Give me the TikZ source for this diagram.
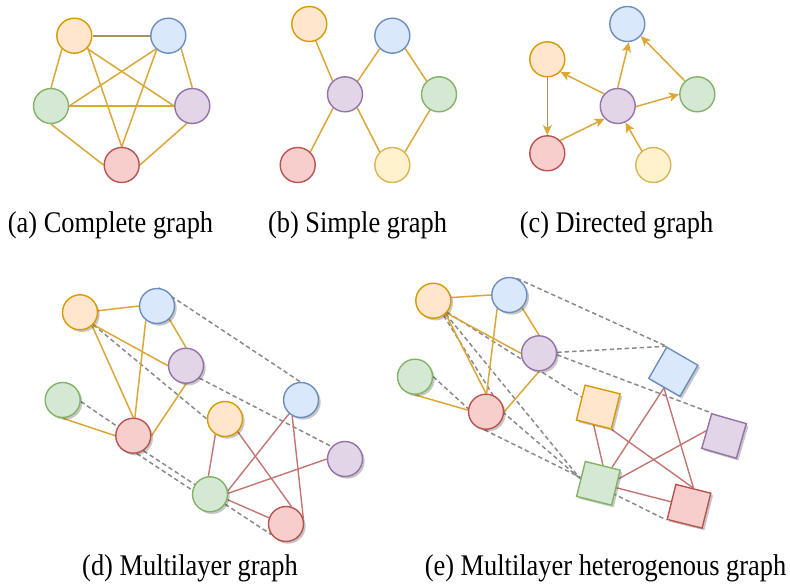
\documentclass[tikz,border=0pt]{standalone}
\usepackage{graphicx}
\usepackage{fontspec}
\setmainfont{Liberation Serif}
\usetikzlibrary{arrows.meta,shadows,calc}
\pgfdeclarelayer{edges}
\pgfsetlayers{edges,main}

\definecolor{ofill}{HTML}{FFE6CC}\definecolor{odraw}{HTML}{D79B00}
\definecolor{bfill}{HTML}{DAE8FC}\definecolor{bdraw}{HTML}{6C8EBF}
\definecolor{gfill}{HTML}{D5E8D4}\definecolor{gdraw}{HTML}{82B366}
\definecolor{pfill}{HTML}{E1D5E7}\definecolor{pdraw}{HTML}{9673A6}
\definecolor{rfill}{HTML}{F8CECC}\definecolor{rdraw}{HTML}{B85450}
\definecolor{yfill}{HTML}{FFF2CC}\definecolor{ydraw}{HTML}{D6B656}
\definecolor{edgeY}{HTML}{DCA737}
\definecolor{edgeD}{HTML}{A8955E}
\definecolor{edgeR}{HTML}{C27572}
\definecolor{dashG}{HTML}{8A8A8A}

\tikzset{
  vtx/.style={circle,minimum size=35pt,inner sep=0pt,line width=1.4pt},
  sqv/.style={rectangle,minimum size=36pt,inner sep=0pt,line width=1.4pt},
  vo/.style={fill=ofill,draw=odraw},
  vb/.style={fill=bfill,draw=bdraw},
  vg/.style={fill=gfill,draw=gdraw},
  vp/.style={fill=pfill,draw=pdraw},
  vr/.style={fill=rfill,draw=rdraw},
  vy/.style={fill=yfill,draw=ydraw},
  shd/.style={drop shadow={shadow xshift=2.2pt,shadow yshift=-2.2pt,opacity=0.22,fill=black}},
  ye/.style={draw=edgeY,line width=1.5pt},
  re/.style={draw=edgeR,line width=1.4pt},
  de/.style={draw=dashG,line width=1.5pt,dash pattern=on 4.5pt off 3pt},
  arr/.style={ye,-{Stealth[length=10pt,width=9pt,inset=2.5pt,color=edgeY]}},
  captxt/.style={anchor=base,inner sep=0pt,font=\fontsize{30}{36}\selectfont},
}

\begin{document}
\begin{tikzpicture}[x=1pt,y=-1pt]
\useasboundingbox (0,0) rectangle (790,588);

% ---------- (a) complete graph ----------
\node[vtx,vo] (aO) at (74.3,35.7) {};
\node[vtx,vb] (aB) at (168.3,35.7) {};
\node[vtx,vg] (aG) at (51,106) {};
\node[vtx,vp] (aP) at (192.3,106) {};
\node[vtx,vr] (aR) at (121.7,165) {};

% ---------- (b) simple graph ----------
\node[vtx,vo] (bO) at (309.3,24) {};
\node[vtx,vb] (bB) at (392.3,35.7) {};
\node[vtx,vp] (bP) at (345,94.3) {};
\node[vtx,vg] (bG) at (439,94.3) {};
\node[vtx,vr] (bR) at (297.7,165) {};
\node[vtx,vy] (bY) at (392.3,165) {};

% ---------- (c) directed graph ----------
\node[vtx,vb] (cB) at (627.3,24) {};
\node[vtx,vo] (cO) at (547.3,59.3) {};
\node[vtx,vp] (cP) at (617.7,106) {};
\node[vtx,vg] (cG) at (697.3,94.3) {};
\node[vtx,vr] (cR) at (547.3,153.3) {};
\node[vtx,vy] (cY) at (653.3,165) {};

% ---------- (d) multilayer graph ----------
\node[vtx,vo,shd] (dO) at (80,312.3) {};
\node[vtx,vb,shd] (dB) at (157,306) {};
\node[vtx,vp,shd] (dP) at (186,365.7) {};
\node[vtx,vg,shd] (dG) at (62.7,400) {};
\node[vtx,vr,shd] (dR) at (133.3,435.7) {};
\node[vtx,vo,shd] (dO2) at (225,419) {};
\node[vtx,vb,shd] (dB2) at (301,400) {};
\node[vtx,vp,shd] (dP2) at (345,459) {};
\node[vtx,vg,shd] (dG2) at (210,494.3) {};
\node[vtx,vr,shd] (dR2) at (286,524) {};

% ---------- (e) multilayer heterogenous graph ----------
\node[vtx,vo,shd] (eO) at (433.3,300.7) {};
\node[vtx,vb,shd] (eB) at (509.3,295) {};
\node[vtx,vp,shd] (eP) at (539,353.3) {};
\node[vtx,vg,shd] (eG) at (415,376.7) {};
\node[vtx,vr,shd] (eR) at (486,411.7) {};
\node[sqv,vo,shd,rotate=-14] (eOs) at (598.2,407) {};
\node[sqv,vb,shd,rotate=-30] (eBs) at (673.3,371.8) {};
\node[sqv,vp,shd,rotate=-16] (ePs) at (724,436) {};
\node[sqv,vg,shd,rotate=-14] (eGs) at (598.4,483.3) {};
\node[sqv,vr,shd,rotate=-14] (eRs) at (689,506.3) {};

% ---------- captions ----------
\node[captxt] (capA) at (110.5,232.8) {\scalebox{0.88}[1]{(a) Complete graph}};
\node[captxt] (capB) at (357.5,232.8) {\scalebox{0.88}[1]{(b) Simple graph}};
\node[captxt] (capC) at (616.5,232.8) {\scalebox{0.88}[1]{(c) Directed graph}};
\node[captxt] (capD) at (190,575.8) {\scalebox{0.88}[1]{(d) Multilayer graph}};
\node[captxt] (capE) at (605.5,575.8) {\scalebox{0.88}[1]{(e) Multilayer heterogenous graph}};

\begin{pgfonlayer}{edges}
% (a)
\draw[ye,draw=edgeD,line width=2pt] (aO.east) -- (aB.west);
\draw[ye] (aO.227) -- (aG.north);
\draw[ye] (aO.-45) -- (aP.west);
\draw[ye] (aO.-42) -- (aR.north);
\draw[ye] (aB.227) -- (aG.east);
\draw[ye] (aB.230) -- (aR.north);
\draw[ye] (aB.-45) -- (aP.north);
\draw[ye] (aG.east) -- (aP.west);
\draw[ye] (aG.south) -- (aR.west);
\draw[ye] (aP.253) -- (aR.east);
% (b)
\draw[ye] (bO.-69) -- (bP.133);
\draw[ye] (bP.46) -- (bB.226);
\draw[ye] (bB.-45) -- (bG.133);
\draw[ye] (bG.240) -- (bY.46);
\draw[ye] (bP.-48) -- (bY.134);
\draw[ye] (bP.229) -- (bR.46);
% (c)
\draw[arr,draw=edgeD] (cO.south) -- (cR.north);
\draw[arr] (cR.45) -- (cP.224);
\draw[arr] (cP.138) -- (cO.-44);
\draw[arr] (cP.north) -- (cB.-85);
\draw[arr] (cP.-2) -- (cG.west);
\draw[arr] (cG.133) -- (cB.-42);
\draw[arr] (cY.129) -- (cP.-65);
% (d) inter-layer links
\draw[de] (dB.85) -- (dB2.92);
\draw[de] (dO.-43) -- (dO2.west);
\draw[de] (dP.-43) -- (dP2.137);
\draw[de] (dG.-5) -- (dR.150);
\draw[de] (dR.-79) -- (dG2.167);
\draw[de] (dR.-56) -- (dR2.215);
% (d) upper layer
\draw[ye] (dO.5) -- (dB.west);
\draw[ye] (dO.-43) -- (dP.west);
\draw[ye] (dO.-48) -- (dR.north);
\draw[ye] (dB.232) -- (dR.85);
\draw[ye] (dB.-47) -- (dP.north);
\draw[ye] (dP.south) -- (dR.east);
\draw[ye] (dG.south) -- (dR.west);
% (d) lower layer
\draw[re] (dO2.238) -- (dG2.95);
\draw[re] (dO2.-45) -- (dR2.72);
\draw[re] (dB2.229) -- (dG2.11);
\draw[re] (dB2.241) -- (dR2.18);
\draw[re] (dP2.west) -- (dG2.3);
\draw[re] (dG2.-17) -- (dR2.160);
% (e) inter-layer links
\draw[de] (eB.65) -- (eBs.north west);
\draw[de] (eP.3) -- (eBs.north west);
\draw[de] (eP.-5) -- (ePs.north west);
\draw[de] (eO.-40) -- ($(eOs.west)!0.3!(eOs.north west)$);
\draw[de] (eO.-47) -- (eGs.west);
\draw[de] (eO.-55) -- (eR.-5) -- (eGs.west);
\draw[de] (eG.0) -- (eR.170);
\draw[de] (eR.-95) -- (eRs.south west);
% (e) upper layer
\draw[ye] (eO.10) -- (eB.west);
\draw[ye] (eO.-43) -- (eP.west);
\draw[ye] (eO.-47) -- (eR.north);
\draw[ye] (eB.228) -- (eR.88);
\draw[ye] (eB.-45) -- (eP.north);
\draw[ye] (eP.south) -- (eR.east);
\draw[ye] (eG.south) -- (eR.175);
% (e) lower layer
\draw[re] (eOs.south) -- (eGs.north);
\draw[re] (eOs.south east) -- (eRs.north);
\draw[re] (eBs.south) -- ($(eGs.north)!0.5!(eGs.north east)$);
\draw[re] (eBs.south) -- (eRs.north);
\draw[re] (ePs.west) -- ($(eGs.east)!0.5!(eGs.north east)$);
\draw[re] (eGs.east) -- (eRs.west);
\end{pgfonlayer}
\end{tikzpicture}
\end{document}
